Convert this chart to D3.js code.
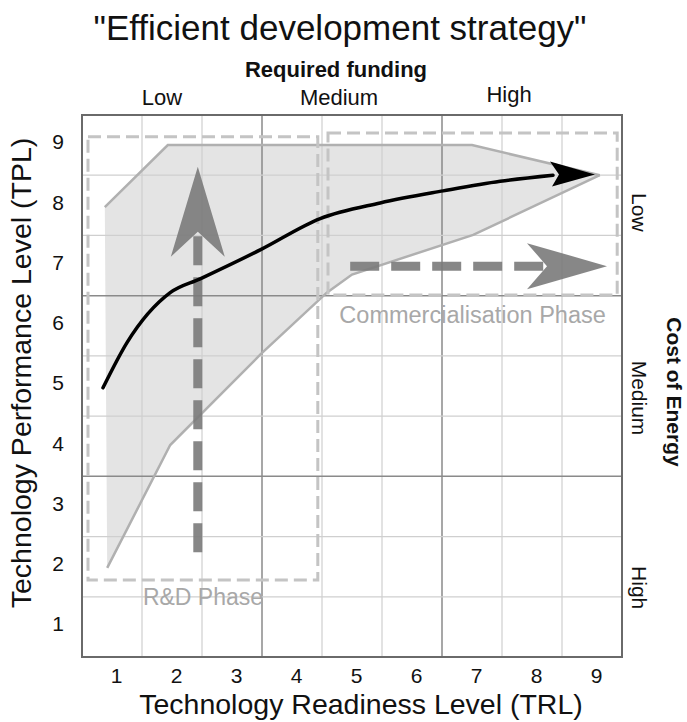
<!DOCTYPE html>
<html>
<head>
<meta charset="utf-8">
<script src="https://cdn.jsdelivr.net/npm/d3@7"></script>
<style>
  body { margin: 0; background: #fff; }
  text { font-family: "Liberation Sans", Arial, sans-serif; }
</style>
</head>
<body>
<div id="chart"></div>
<script>
// chart values
const trlTicks = [1, 2, 3, 4, 5, 6, 7, 8, 9];
const tplTicks = [1, 2, 3, 4, 5, 6, 7, 8, 9];
const fundingLabels = ["Low", "Medium", "High"];
const costLabels = ["Low", "Medium", "High"];

// black "efficient" path (TRL, TPL)
const pathTRL = [0.85, 1.25, 1.97, 2.47, 3.47, 4.47, 5.47, 6.52, 7.47, 8.35, 9.05];
const pathTPL = [4.97, 5.72, 6.55, 6.78, 7.26, 7.78, 8.04, 8.24, 8.40, 8.50, 8.51];

// shaded envelope
const upperTRL = [0.88, 1.93, 7.0, 9.13];
const upperTPL = [7.97, 9.0, 9.0, 8.5];
const lowerTRL = [0.92, 1.97, 3.47, 4.58, 5.0, 7.02, 9.13];
const lowerTPL = [1.98, 4.02, 5.52, 6.55, 6.85, 7.51, 8.5];

// phase boxes [x0, x1, y0, y1]
const phaseNames = ["R&D Phase", "Commercialisation Phase"];
const phaseBoxes = [[0.6, 4.43, 1.78, 9.14], [4.6, 9.42, 6.51, 9.2]];

// dashed arrows: start and tip
const rdArrow = { from: [2.43, 2.24], to: [2.43, 8.64] };
const comArrow = { from: [4.97, 6.99], to: [9.25, 6.99] };

const svgWidth = 687, svgHeight = 722;
const plot = { left: 82, right: 622, top: 115, bottom: 657 };

const svg = d3.select("#chart").append("svg")
    .attr("width", svgWidth)
    .attr("height", svgHeight);

const x = d3.scaleLinear().domain([0.5, 9.5]).range([plot.left, plot.right]);
const y = d3.scaleLinear().domain([0.5, 9.5]).range([plot.bottom, plot.top]);

// shaded area between upper and lower lines
const upper = upperTRL.map((d, i) => [d, upperTPL[i]]);
const lower = lowerTRL.map((d, i) => [d, lowerTPL[i]]);
const envelope = upper.concat(lower.slice().reverse());
const line = d3.line().x(d => x(d[0])).y(d => y(d[1]));

svg.append("path")
    .attr("d", line(envelope) + "Z")
    .attr("fill", "#e4e4e4");

// grid, the thirds are darker
const gridVals = d3.range(1.5, 9.5, 1);
const isThird = d => d === 3.5 || d === 6.5;
svg.append("g").selectAll("line")
    .data(gridVals)
    .join("line")
    .attr("x1", d => x(d)).attr("x2", d => x(d))
    .attr("y1", plot.top).attr("y2", plot.bottom)
    .attr("stroke", d => isThird(d) ? "#8a8a8a" : "#cfcfcf")
    .attr("stroke-width", d => isThird(d) ? 1.5 : 1.2);
svg.append("g").selectAll("line")
    .data(gridVals)
    .join("line")
    .attr("y1", d => y(d)).attr("y2", d => y(d))
    .attr("x1", plot.left).attr("x2", plot.right)
    .attr("stroke", d => isThird(d) ? "#8a8a8a" : "#cfcfcf")
    .attr("stroke-width", d => isThird(d) ? 1.5 : 1.2);

// envelope outlines
[upper, lower].forEach(pts => {
    svg.append("path")
        .attr("d", line(pts))
        .attr("fill", "none")
        .attr("stroke", "#b0b0b0")
        .attr("stroke-width", 2.5);
});

// phase boxes
svg.append("g").selectAll("rect")
    .data(phaseBoxes)
    .join("rect")
    .attr("x", d => x(d[0]))
    .attr("y", d => y(d[3]))
    .attr("width", d => x(d[1]) - x(d[0]))
    .attr("height", d => y(d[2]) - y(d[3]))
    .attr("fill", "none")
    .attr("stroke", "#c4c4c4")
    .attr("stroke-width", 3)
    .attr("stroke-dasharray", "13,6");

// phase labels
svg.append("text")
    .attr("x", x(phaseBoxes[0][0]) + 115)
    .attr("y", y(phaseBoxes[0][2]) + 25)
    .attr("text-anchor", "middle")
    .attr("font-size", 23)
    .attr("fill", "#a8a8a8")
    .text(phaseNames[0]);
svg.append("text")
    .attr("x", (x(phaseBoxes[1][0]) + x(phaseBoxes[1][1])) / 2)
    .attr("y", y(phaseBoxes[1][2]) + 28)
    .attr("text-anchor", "middle")
    .attr("font-size", 23.5)
    .attr("fill", "#a8a8a8")
    .text(phaseNames[1]);

// dashed gray arrows
function dashedArrow(a, headLen, halfW, notch) {
    const x0 = x(a.from[0]), y0 = y(a.from[1]);
    const x1 = x(a.to[0]), y1 = y(a.to[1]);
    const len = Math.hypot(x1 - x0, y1 - y0);
    const ux = (x1 - x0) / len, uy = (y1 - y0) / len;
    const px = -uy, py = ux;
    // shaft stops where the notch is
    const sx = x1 - ux * (headLen - notch), sy = y1 - uy * (headLen - notch);
    svg.append("line")
        .attr("x1", x0).attr("y1", y0)
        .attr("x2", sx).attr("y2", sy)
        .attr("stroke", "#7a7a7a")
        .attr("stroke-opacity", 0.9)
        .attr("stroke-width", 9)
        .attr("stroke-dasharray", "29,12");
    const bx = x1 - ux * headLen, by = y1 - uy * headLen;
    const head = [
        [x1, y1],
        [bx + px * halfW, by + py * halfW],
        [sx, sy],
        [bx - px * halfW, by - py * halfW]
    ];
    svg.append("path")
        .attr("d", "M" + head.join("L") + "Z")
        .attr("fill", "#7a7a7a")
        .attr("fill-opacity", 0.9);
}
dashedArrow(rdArrow, 90, 27, 25);
dashedArrow(comArrow, 80, 23, 20);

// black path with arrowhead
const pathPts = pathTRL.map((d, i) => [d, pathTPL[i]]);
const n = pathPts.length;
svg.append("path")
    .attr("d", d3.line().x(d => x(d[0])).y(d => y(d[1])).curve(d3.curveMonotoneX)(pathPts.slice(0, n - 1)))
    .attr("fill", "none")
    .attr("stroke", "#000")
    .attr("stroke-width", 3.5)
    .attr("stroke-linecap", "round");
{
    const tx = x(pathPts[n - 1][0]), ty = y(pathPts[n - 1][1]);
    svg.append("path")
        .attr("d", `M${tx},${ty}L${tx - 45},${ty - 13}L${tx - 36},${ty}L${tx - 43},${ty + 12}Z`)
        .attr("fill", "#000");
}

// frame
svg.append("rect")
    .attr("x", plot.left).attr("y", plot.top)
    .attr("width", plot.right - plot.left)
    .attr("height", plot.bottom - plot.top)
    .attr("fill", "none")
    .attr("stroke", "#6a6a6a")
    .attr("stroke-width", 2);

// axes
const xAxis = svg.append("g")
    .attr("transform", `translate(0,${plot.bottom})`)
    .call(d3.axisBottom(x).tickValues(trlTicks).tickSize(0).tickPadding(11));
const yAxis = svg.append("g")
    .attr("transform", `translate(${plot.left},0)`)
    .call(d3.axisLeft(y).tickValues(tplTicks).tickSize(0).tickPadding(18));
[xAxis, yAxis].forEach(g => {
    g.select(".domain").remove();
    g.selectAll("text")
        .attr("font-family", "Liberation Sans, Arial, sans-serif")
        .attr("font-size", 21)
        .attr("fill", "#111");
});
xAxis.selectAll("text").attr("dx", 4);
yAxis.selectAll("text").attr("dy", "0.18em");

// titles
svg.append("text")
    .attr("x", 340).attr("y", 40)
    .attr("text-anchor", "middle")
    .attr("font-size", 35)
    .attr("fill", "#111")
    .text('"Efficient development strategy"');
svg.append("text")
    .attr("x", 336).attr("y", 77)
    .attr("text-anchor", "middle")
    .attr("font-size", 22)
    .attr("font-weight", "bold")
    .attr("fill", "#111")
    .text("Required funding");

// funding labels above each third
const thirdX = d3.scaleBand().domain(fundingLabels).range([plot.left, plot.right]);
const fundShift = [-10, -13, -23];
svg.append("g").selectAll("text")
    .data(fundingLabels)
    .join("text")
    .attr("x", (d, i) => thirdX(d) + thirdX.bandwidth() / 2 + fundShift[i])
    .attr("y", (d, i) => i === 2 ? 102 : 105)
    .attr("text-anchor", "middle")
    .attr("font-size", 22)
    .attr("fill", "#111")
    .text(d => d);

// cost of energy labels on the right, rotated
const thirdY = d3.scaleBand().domain(costLabels).range([plot.top, plot.bottom]);
const costShift = [7, 12, 21];
svg.append("g").selectAll("text")
    .data(costLabels)
    .join("text")
    .attr("transform", (d, i) => `translate(632,${thirdY(d) + thirdY.bandwidth() / 2 + costShift[i]}) rotate(90)`)
    .attr("text-anchor", "middle")
    .attr("font-size", 21)
    .attr("fill", "#111")
    .text(d => d);
svg.append("text")
    .attr("transform", `translate(667,392) rotate(90)`)
    .attr("text-anchor", "middle")
    .attr("font-size", 21)
    .attr("font-weight", "bold")
    .attr("fill", "#111")
    .text("Cost of Energy");

// axis titles
svg.append("text")
    .attr("x", 361).attr("y", 714)
    .attr("text-anchor", "middle")
    .attr("font-size", 28.5)
    .attr("fill", "#111")
    .text("Technology Readiness Level (TRL)");
svg.append("text")
    .attr("transform", `translate(31,373) rotate(-90)`)
    .attr("text-anchor", "middle")
    .attr("font-size", 28.5)
    .attr("fill", "#111")
    .text("Technology Performance Level (TPL)");
</script>
</body>
</html>
